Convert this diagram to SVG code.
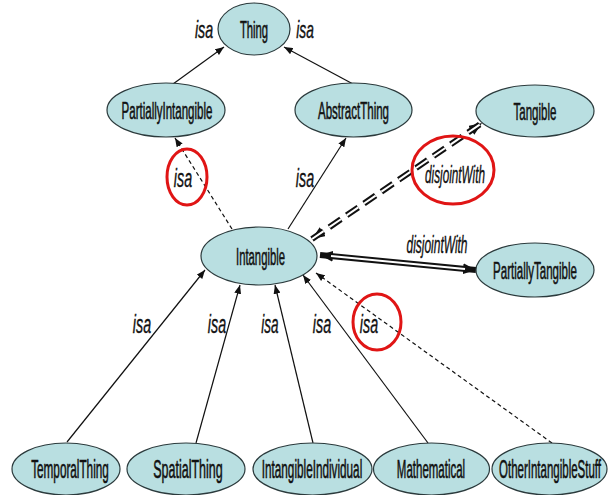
<svg xmlns="http://www.w3.org/2000/svg" width="613" height="495" viewBox="0 0 613 495">
  <style>
    .node ellipse { fill: #b9dfe1; stroke: #2b3a3c; stroke-width: 1.2; }
    .node text { font-family: "Liberation Sans", Arial, sans-serif; font-size: 24px; fill: #111; text-anchor: middle; stroke: #111; stroke-width: 0.6; }
    .node.low text { font-size: 25px; }
    .edge { fill: none; stroke: #111; stroke-width: 1.2; }
    .dash { stroke-dasharray: 4 3; }
    .dbl { fill: none; stroke: #111; stroke-width: 6; }
    .dbl-in { fill: none; stroke: #fff; stroke-width: 2; }
    .ddash { stroke-dasharray: 14 7; }
    .lbl { font-family: "Liberation Sans", Arial, sans-serif; font-style: italic; font-size: 23px; fill: #111; text-anchor: middle; stroke: #111; stroke-width: 0.4; }
    .lbl.big { font-size: 26px; }
    .mark { fill: none; stroke: #e01515; stroke-width: 3; }
  </style>
  <defs>
    <marker id="arr" viewBox="0 0 10 8" refX="10" refY="4" markerWidth="9" markerHeight="7" markerUnits="userSpaceOnUse" orient="auto">
      <path d="M0,0 L10,4 L0,8 Z" fill="#111"/>
    </marker>
    <marker id="arrBig" viewBox="0 0 12 10" refX="12" refY="5" markerWidth="13" markerHeight="11" markerUnits="userSpaceOnUse" orient="auto-start-reverse">
      <path d="M0,0 L12,5 L0,10 Z" fill="#111"/>
    </marker>
  </defs>

  <!-- connectors -->
  <g id="edges">
    <line class="edge" x1="173" y1="84" x2="224" y2="47" marker-end="url(#arr)"/>
    <line class="edge" x1="353" y1="84" x2="284" y2="47" marker-end="url(#arr)"/>
    <line class="edge" x1="288" y1="229" x2="346" y2="138" marker-end="url(#arr)"/>
    <line class="edge dash" x1="232" y1="229" x2="175" y2="138" marker-end="url(#arr)"/>

    <!-- disjointWith Intangible / Tangible: double dashed -->
    <line class="dbl ddash" x1="312" y1="239" x2="482" y2="123" marker-start="url(#arrBig)" marker-end="url(#arrBig)"/>
    <line class="dbl-in ddash" x1="312" y1="239" x2="482" y2="123"/>
    <!-- disjointWith Intangible / PartiallyTangible: double solid -->
    <line class="dbl" x1="320" y1="255" x2="476" y2="270" marker-start="url(#arrBig)" marker-end="url(#arrBig)"/>
    <line class="dbl-in" x1="331" y1="256" x2="465" y2="269"/>

    <line class="edge" x1="67" y1="442" x2="205" y2="270" marker-end="url(#arr)"/>
    <line class="edge" x1="196" y1="443" x2="240" y2="285" marker-end="url(#arr)"/>
    <line class="edge" x1="313" y1="443" x2="275" y2="285" marker-end="url(#arr)"/>
    <line class="edge" x1="428" y1="443" x2="303" y2="275" marker-end="url(#arr)"/>
    <line class="edge dash" x1="552" y1="443" x2="316" y2="273" marker-end="url(#arr)"/>
  </g>

  <!-- connector labels (condensed with a horizontal scale) -->
  <g id="edge-labels">
    <text class="lbl" transform="translate(204,38) scale(0.62,1)">isa</text>
    <text class="lbl" transform="translate(305,38) scale(0.6,1)">isa</text>
    <text class="lbl big" transform="translate(305,187) scale(0.55,1)">isa</text>
    <text class="lbl big" transform="translate(183,187) scale(0.55,1)">isa</text>
    <text class="lbl" transform="translate(455,183) scale(0.51,1)">disjointWith</text>
    <text class="lbl" transform="translate(437,253) scale(0.52,1)">disjointWith</text>
    <text class="lbl big" transform="translate(142,333) scale(0.55,1)">isa</text>
    <text class="lbl big" transform="translate(217,333) scale(0.55,1)">isa</text>
    <text class="lbl big" transform="translate(270,333) scale(0.52,1)">isa</text>
    <text class="lbl big" transform="translate(322,333) scale(0.55,1)">isa</text>
    <text class="lbl big" transform="translate(369,333) scale(0.55,1)">isa</text>
  </g>

  <!-- highlight rings -->
  <g id="highlights">
    <ellipse class="mark" cx="187" cy="177" rx="20" ry="28"/>
    <ellipse class="mark" cx="453" cy="170" rx="41" ry="34"/>
    <ellipse class="mark" cx="377" cy="322" rx="24" ry="28"/>
  </g>

  <!-- nodes -->
  <g id="thing" class="node">
    <ellipse cx="254" cy="29" rx="36" ry="26"/>
    <text transform="translate(254,38) scale(0.47,1)">Thing</text>
  </g>
  <g id="partially-intangible" class="node">
    <ellipse cx="166" cy="110" rx="59" ry="27"/>
    <text transform="translate(167,119) scale(0.48,1)">PartiallyIntangible</text>
  </g>
  <g id="abstract-thing" class="node">
    <ellipse cx="353.5" cy="110" rx="58.5" ry="27"/>
    <text transform="translate(353.5,119) scale(0.48,1)">AbstractThing</text>
  </g>
  <g id="tangible" class="node">
    <ellipse cx="535" cy="111" rx="59" ry="26"/>
    <text transform="translate(535,120) scale(0.48,1)">Tangible</text>
  </g>
  <g id="intangible" class="node">
    <ellipse cx="259" cy="256" rx="58" ry="29"/>
    <text transform="translate(260.5,265) scale(0.47,1)">Intangible</text>
  </g>
  <g id="partially-tangible" class="node">
    <ellipse cx="535" cy="270" rx="59" ry="27"/>
    <text transform="translate(535,279) scale(0.48,1)">PartiallyTangible</text>
  </g>
  <g id="temporal-thing" class="node low">
    <ellipse cx="66" cy="469" rx="54" ry="26"/>
    <text transform="translate(70,478) scale(0.47,1)">TemporalThing</text>
  </g>
  <g id="spatial-thing" class="node low">
    <ellipse cx="186" cy="469" rx="59" ry="26"/>
    <text transform="translate(188,478) scale(0.5,1)">SpatialThing</text>
  </g>
  <g id="intangible-individual" class="node low">
    <ellipse cx="312.5" cy="469" rx="59.5" ry="26"/>
    <text transform="translate(312,478) scale(0.47,1)">IntangibleIndividual</text>
  </g>
  <g id="mathematical" class="node low">
    <ellipse cx="431.5" cy="469" rx="58" ry="26"/>
    <text transform="translate(431,478) scale(0.46,1)">Mathematical</text>
  </g>
  <g id="other-intangible-stuff" class="node low">
    <ellipse cx="549.5" cy="469" rx="57.5" ry="26"/>
    <text transform="translate(550,478) scale(0.46,1)">OtherIntangibleStuff</text>
  </g>
</svg>
